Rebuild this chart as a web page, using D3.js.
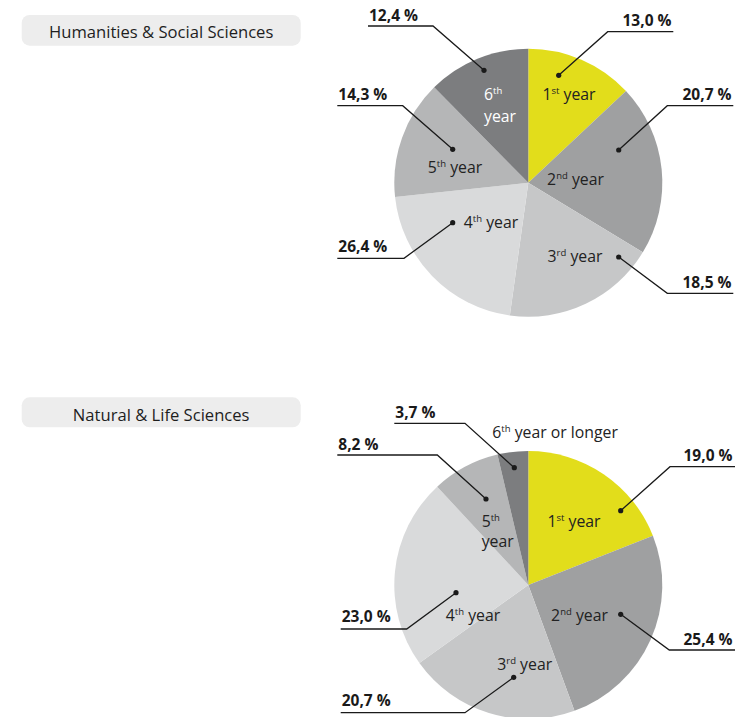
<!DOCTYPE html>
<html><head><meta charset="utf-8">
<script src="https://cdn.jsdelivr.net/npm/d3@7"></script>
<style>
html,body{margin:0;padding:0;background:#fff;}
svg{display:block;font-family:"Open Sans","Noto Sans",sans-serif;}
</style></head>
<body>
<svg id="chart" width="741" height="717"></svg>
<script>
// ---- data ----
const titles = ["Humanities & Social Sciences", "Natural & Life Sciences"];
const ordinals = ["1", "2", "3", "4", "5", "6"];
const suffixes = ["st", "nd", "rd", "th", "th", "th"];
// slice sizes as drawn in the picture
const values1 = [13.0, 20.7, 18.5, 21.1, 14.3, 12.4];
const labels1 = ["13,0 %", "20,7 %", "18,5 %", "26,4 %", "14,3 %", "12,4 %"];
const values2 = [19.0, 25.4, 20.7, 23.0, 8.2, 3.7];
const labels2 = ["19,0 %", "25,4 %", "20,7 %", "23,0 %", "8,2 %", "3,7 %"];
const tail2 = ["", "", "", "", "", " or longer"];

// ---- styles / layout ----
const colors = ["#e2dd1b", "#9fa0a1", "#c6c7c8", "#d9dadb", "#b5b6b7", "#7c7d7f"];
const R = 134;
const panels = [
  {
    values: values1, labels: labels1, tails: ["", "", "", "", "", ""],
    cx: 528.3, cy: 182.7, box: {x: 21.7, y: 15, w: 279, h: 30.7, ty: 37.5},
    callouts: [
      {dot: [558.7, 75.3], knee: [607.7, 31.7], end: 673.3, tx: 671.5, ty: 26, side: "r"},
      {dot: [618.7, 150], knee: [667.3, 105.7], end: 733.3, tx: 731.5, ty: 100, side: "r"},
      {dot: [618.7, 257], knee: [667.3, 293.3], end: 733.3, tx: 731.5, ty: 287.5, side: "r"},
      {dot: [452.7, 222.7], knee: [404, 258.3], end: 337.3, tx: 338.3, ty: 252.3, side: "l"},
      {dot: [452.7, 149.3], knee: [402.7, 105.7], end: 337.3, tx: 338.3, ty: 100, side: "l"},
      {dot: [484, 70.3], knee: [433, 26], end: 368, tx: 369, ty: 20.5, side: "l"}
    ],
    inner: [
      {x: 569, y: 100, anchor: "middle"},
      {x: 575.5, y: 184.5, anchor: "middle"},
      {x: 575, y: 262, anchor: "middle"},
      {x: 491, y: 228, anchor: "middle"},
      {x: 455, y: 173, anchor: "middle"},
      {x: 484, y: 100, anchor: "start", split: 21.7, fill: "#ffffff"}
    ]
  },
  {
    values: values2, labels: labels2, tails: tail2,
    cx: 528.3, cy: 585, box: {x: 21.7, y: 397.3, w: 279, h: 30, ty: 420.7},
    callouts: [
      {dot: [620.7, 510.7], knee: [670, 466.7], end: 735, tx: 732.5, ty: 461, side: "r"},
      {dot: [620.7, 614.3], knee: [669.3, 650], end: 735, tx: 732.5, ty: 644.5, side: "r"},
      {dot: [513.7, 677.3], knee: [465, 712.7], end: 340.7, tx: 341.7, ty: 706.3, side: "l"},
      {dot: [456, 592.7], knee: [406.7, 629], end: 340.7, tx: 341.7, ty: 622.3, side: "l"},
      {dot: [486, 499], knee: [437.3, 455], end: 337.3, tx: 338.3, ty: 450, side: "l"},
      {dot: [514.3, 467.7], knee: [465, 423.3], end: 394.3, tx: 395.3, ty: 418, side: "l"}
    ],
    inner: [
      {x: 574, y: 527, anchor: "middle"},
      {x: 579.5, y: 620.5, anchor: "middle"},
      {x: 524.7, y: 669.5, anchor: "middle"},
      {x: 473, y: 620.5, anchor: "middle"},
      {x: 481.7, y: 526.5, anchor: "start", split: 20},
      {x: 492.3, y: 438, anchor: "start"}
    ]
  }
];

const svg = d3.select("#chart");
const pie = d3.pie().sort(null).value(d => d).startAngle(0).endAngle(2 * Math.PI);
const arc = d3.arc().innerRadius(0).outerRadius(R);
const color = d3.scaleOrdinal().domain(d3.range(6)).range(colors);

function addOrdinal(t, i, tail, after) {
  t.append("tspan").text(ordinals[i]);
  t.append("tspan").attr("font-size", 9.5).attr("dy", -6).text(suffixes[i]);
  if (after !== null) t.append("tspan").attr("dy", 6).text(after + tail);
}

panels.forEach((p, pi) => {
  // title box
  svg.append("rect").attr("x", p.box.x).attr("y", p.box.y).attr("width", p.box.w).attr("height", p.box.h)
    .attr("rx", 8).attr("fill", "#ededed");
  svg.append("text").attr("x", p.box.x + p.box.w / 2).attr("y", p.box.ty).attr("text-anchor", "middle")
    .attr("font-size", 16.6).attr("fill", "#1e1e1e").text(titles[pi]);

  const g = svg.append("g").attr("transform", `translate(${p.cx},${p.cy})`);
  const arcs = pie(p.values);
  g.selectAll("path").data(arcs).join("path").attr("d", arc).attr("fill", (d, i) => color(i));

  // inner labels
  p.inner.forEach((L, i) => {
    const fill = L.fill || "#222222";
    if (L.split) {
      const t = svg.append("text").attr("x", L.x).attr("y", L.y).attr("text-anchor", L.anchor)
        .attr("font-size", 15.8).attr("fill", fill);
      addOrdinal(t, i, "", null);
      svg.append("text").attr("x", L.x).attr("y", L.y + L.split).attr("text-anchor", L.anchor)
        .attr("font-size", 15.8).attr("fill", fill).text("year");
    } else {
      const t = svg.append("text").attr("x", L.x).attr("y", L.y).attr("text-anchor", L.anchor)
        .attr("font-size", 15.8).attr("fill", fill);
      addOrdinal(t, i, p.tails[i], " year");
    }
  });

  // callouts
  p.callouts.forEach((c, i) => {
    svg.append("path")
      .attr("d", `M${c.dot[0]},${c.dot[1]}L${c.knee[0]},${c.knee[1]}L${c.end},${c.knee[1]}`)
      .attr("fill", "none").attr("stroke", "#1a1a1a").attr("stroke-width", 1.3);
    svg.append("circle").attr("cx", c.dot[0]).attr("cy", c.dot[1]).attr("r", 2.6).attr("fill", "#1a1a1a");
    svg.append("text").attr("x", c.tx).attr("y", c.ty)
      .attr("text-anchor", c.side === "r" ? "end" : "start")
      .attr("font-size", 15.5).attr("font-weight", "bold").attr("fill", "#1a1a1a")
      .text(p.labels[i]);
  });
});
</script>
</body></html>
